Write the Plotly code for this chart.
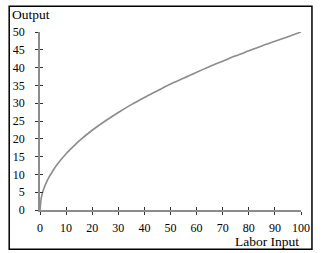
import plotly.graph_objects as go

labor = [0, 0.5, 1, 2, 3, 5, 7, 10, 13, 15, 20, 25, 30, 35, 40, 45, 50, 55, 60, 65, 70, 75, 80, 85, 90, 95, 100]
output = [0, 3.5, 5, 7, 8.6, 11.1, 13.2, 15.8, 18.0, 19.4, 22.4, 25, 27.4, 29.6, 31.6, 33.5, 35.4, 37, 38.7, 40.3, 41.8, 43.3, 44.7, 46.1, 47.4, 48.7, 50]
x_ticks = [0, 10, 20, 30, 40, 50, 60, 70, 80, 90, 100]
y_ticks = [0, 5, 10, 15, 20, 25, 30, 35, 40, 45, 50]

font = dict(family="Liberation Serif", size=12, color="#000000")
title_font = dict(family="Liberation Serif", size=13.5, color="#000000")

fig = go.Figure()
fig.add_trace(go.Scatter(x=labor, y=output, mode="lines",
                         line=dict(color="#8c8c8c", width=1.6, shape="spline", smoothing=0.8),
                         hoverinfo="skip", showlegend=False))
fig.add_trace(go.Scatter(x=[0], y=[0], xaxis="x2", yaxis="y2", mode="markers",
                         marker=dict(opacity=0), hoverinfo="skip", showlegend=False))

axis_common = dict(showgrid=False, zeroline=False, showline=True, linecolor="#8c8c8c",
                   linewidth=1.5, tickcolor="#333333", ticklen=3, tickwidth=1, tickfont=font)

fig.update_layout(
    width=322, height=253,
    margin=dict(l=40, r=16, t=32, b=43),
    paper_bgcolor="white", plot_bgcolor="white",
    xaxis=dict(range=[0, 100], tickvals=x_ticks, ticks="outside", ticklabelstandoff=3, **axis_common),
    yaxis=dict(range=[0, 50], tickvals=y_ticks, ticks="outside", ticklabelstandoff=8, **axis_common),
    xaxis2=dict(range=[0, 100], tickvals=x_ticks, ticks="inside", overlaying="x",
                showticklabels=False, showgrid=False, zeroline=False, showline=False,
                tickcolor="#333333", ticklen=3, tickwidth=1),
    yaxis2=dict(range=[0, 50], tickvals=y_ticks, ticks="inside", overlaying="y",
                showticklabels=False, showgrid=False, zeroline=False, showline=False,
                tickcolor="#333333", ticklen=3, tickwidth=1),
    shapes=[dict(type="rect", xref="paper", yref="paper", x0=-0.118, x1=1.042, y0=-0.22, y1=1.145,
                 line=dict(color="#000000", width=1.5))],
    annotations=[
        dict(text="Output", xref="paper", yref="paper", x=-0.115, y=1.10, xanchor="left",
             yanchor="middle", showarrow=False, font=title_font),
        dict(text="Labor Input", xref="paper", yref="paper", x=1.0, y=-0.175, xanchor="right",
             yanchor="middle", showarrow=False, font=title_font),
    ],
)

fig.write_html("out.html")
